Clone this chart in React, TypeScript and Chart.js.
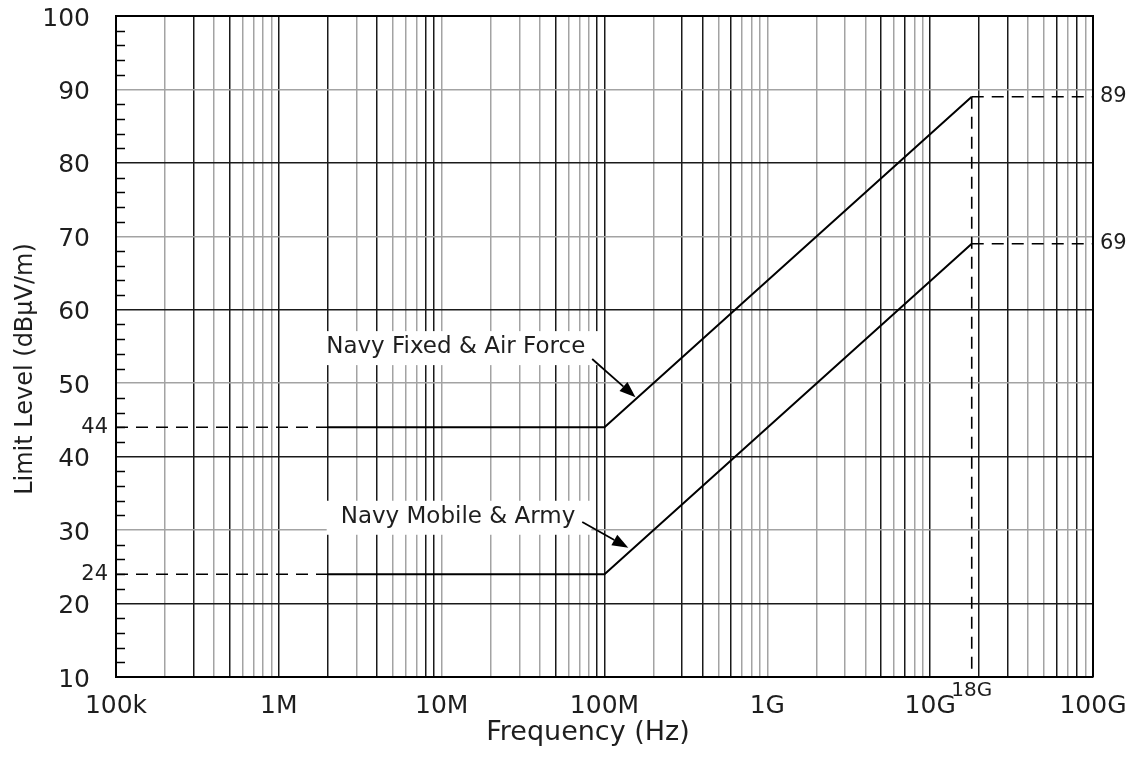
import { useEffect, useRef } from 'react';
import { Chart, registerables } from 'chart.js';

Chart.register(...registerables);

const FONT = '"DejaVu Sans", "Liberation Sans", sans-serif';

// ---- data ----
const breakFreqs = [2e6, 1e8, 1.8e10];
const navyFixedAirForce = [44, 44, 89];
const navyMobileArmy = [24, 24, 69];

const xDecades = [1e5, 1e6, 1e7, 1e8, 1e9, 1e10, 1e11];
const xTickLabels = ['100k', '1M', '10M', '100M', '1G', '10G', '100G'];
const yTickValues = [10, 20, 30, 40, 50, 60, 70, 80, 90, 100];
const yMinorTicks = [12, 14, 16, 18, 22, 24, 26, 28, 32, 34, 36, 38, 42, 44, 46, 48, 52, 54, 56, 58, 62, 64, 66, 68, 72, 74, 76, 78, 82, 84, 86, 88, 92, 94, 96, 98];
const darkVerticals = [3e5, 5e5, 1e6, 2e6, 4e6, 8e6, 9e6, 5e7, 9e7, 1e8, 3e8, 4e8, 6e8, 5e9, 7e9, 1e10, 2e10, 3e10, 6e10, 8e10];
const darkHorizontals = [20, 40, 60, 80, 100];

const X_MIN = 1e5;
const X_MAX = 1e11;
const Y_MIN = 10;
const Y_MAX = 100;

// annotation anchors (data space)
const annotations = [
  { text: 'Navy Fixed & Air Force', x: 1.22e7, y: 54.1, arrowFrom: [8.4e7, 53.3], arrowTo: [1.55e8, 48.1] },
  { text: 'Navy Mobile & Army', x: 1.26e7, y: 31.0, arrowFrom: [7.3e7, 31.1], arrowTo: [1.4e8, 27.6] },
];

// all log grid positions (1..9 x decade)
const xGridValues: number[] = [];
for (let d = 0; d < xDecades.length; d++) {
  const base = xDecades[d];
  if (d === xDecades.length - 1) {
    xGridValues.push(base);
  } else {
    for (let m = 1; m <= 9; m++) xGridValues.push(m * base);
  }
}

const isClose = (a: number, b: number) => Math.abs(a - b) / b < 1e-6;

const GRAY = '#a3a3a3';
const DARK = '#1a1a1a';
const TEXT = '#1e1e1e';

const pts = (xs: number[], ys: number[]) => xs.map((x, i) => ({ x, y: ys[i] }));

const overlayPlugin = {
  id: 'overlay',
  beforeDatasetsDraw(chart: any) {
    const { ctx, chartArea, scales } = chart;
    const xs = scales.x;
    const ys = scales.y;
    ctx.save();
    // minor inner ticks on y axis
    ctx.strokeStyle = '#000';
    ctx.lineWidth = 1.5;
    for (const v of yMinorTicks) {
      const py = Math.round(ys.getPixelForValue(v)) + 0.5;
      ctx.beginPath();
      ctx.moveTo(chartArea.left, py);
      ctx.lineTo(chartArea.left + 9, py);
      ctx.stroke();
    }
    // label boxes
    ctx.font = `23px ${FONT}`;
    ctx.textAlign = 'center';
    ctx.textBaseline = 'alphabetic';
    for (const a of annotations) {
      const cx = xs.getPixelForValue(a.x);
      const by = ys.getPixelForValue(a.y);
      const w = ctx.measureText(a.text).width;
      ctx.fillStyle = '#fff';
      ctx.fillRect(cx - w / 2 - 14, by - 22, w + 30, 34);
      ctx.fillStyle = TEXT;
      ctx.fillText(a.text, cx, by);
    }
    ctx.restore();
  },
  afterDatasetsDraw(chart: any) {
    const { ctx, chartArea, scales } = chart;
    const xs = scales.x;
    const ys = scales.y;
    ctx.save();
    // frame top & right
    ctx.strokeStyle = '#000';
    ctx.lineWidth = 2;
    ctx.beginPath();
    ctx.moveTo(chartArea.left, chartArea.top);
    ctx.lineTo(chartArea.right, chartArea.top);
    ctx.lineTo(chartArea.right, chartArea.bottom);
    ctx.stroke();

    // arrows
    for (const a of annotations) {
      const x1 = xs.getPixelForValue(a.arrowFrom[0]);
      const y1 = ys.getPixelForValue(a.arrowFrom[1]);
      const x2 = xs.getPixelForValue(a.arrowTo[0]);
      const y2 = ys.getPixelForValue(a.arrowTo[1]);
      const ang = Math.atan2(y2 - y1, x2 - x1);
      const len = 16;
      const half = 6;
      const bx = x2 - len * Math.cos(ang);
      const byy = y2 - len * Math.sin(ang);
      ctx.strokeStyle = '#000';
      ctx.lineWidth = 1.8;
      ctx.beginPath();
      ctx.moveTo(x1, y1);
      ctx.lineTo(bx, byy);
      ctx.stroke();
      ctx.fillStyle = '#000';
      ctx.beginPath();
      ctx.moveTo(x2, y2);
      ctx.lineTo(bx + half * Math.sin(ang), byy - half * Math.cos(ang));
      ctx.lineTo(bx - half * Math.sin(ang), byy + half * Math.cos(ang));
      ctx.closePath();
      ctx.fill();
    }
    ctx.restore();
  },
  afterDraw(chart: any) {
    const { ctx, chartArea, scales } = chart;
    const xs = scales.x;
    const ys = scales.y;
    ctx.save();
    ctx.fillStyle = TEXT;
    // side value labels
    ctx.font = `21px ${FONT}`;
    ctx.textBaseline = 'middle';
    ctx.textAlign = 'right';
    ctx.fillText(String(navyFixedAirForce[0]), chartArea.left - 8, ys.getPixelForValue(navyFixedAirForce[0]));
    ctx.fillText(String(navyMobileArmy[0]), chartArea.left - 8, ys.getPixelForValue(navyMobileArmy[0]));
    ctx.textAlign = 'left';
    ctx.fillText(String(navyFixedAirForce[2]), chartArea.right + 7, ys.getPixelForValue(navyFixedAirForce[2]));
    ctx.fillText(String(navyMobileArmy[2]), chartArea.right + 7, ys.getPixelForValue(navyMobileArmy[2]));
    // 18G label
    ctx.font = `20px ${FONT}`;
    ctx.textAlign = 'center';
    ctx.fillText('18G', xs.getPixelForValue(breakFreqs[2]), chartArea.bottom + 14);
    // axis titles
    ctx.font = `27px ${FONT}`;
    ctx.fillText('Frequency (Hz)', 588, 733);
    ctx.font = `24px ${FONT}`;
    ctx.translate(26, 369);
    ctx.rotate(-Math.PI / 2);
    ctx.fillText('Limit Level (dBμV/m)', 0, 0);
    ctx.restore();
  },
};

export default function App() {
  const canvasRef = useRef<HTMLCanvasElement | null>(null);

  useEffect(() => {
    if (!canvasRef.current) return;
    const solid = { borderColor: '#000', borderWidth: 2, pointRadius: 0, showLine: true, fill: false };
    const dashed = { borderColor: '#000', borderWidth: 1.6, borderDash: [12, 8], pointRadius: 0, showLine: true, fill: false };
    const chart = new Chart(canvasRef.current, {
      type: 'scatter',
      data: {
        datasets: [
          { label: 'Navy Fixed & Air Force', data: pts(breakFreqs, navyFixedAirForce), ...solid },
          { label: 'Navy Mobile & Army', data: pts(breakFreqs, navyMobileArmy), ...solid },
          { label: 'g44', data: pts([X_MIN, breakFreqs[0]], [navyFixedAirForce[0], navyFixedAirForce[0]]), ...dashed },
          { label: 'g24', data: pts([X_MIN, breakFreqs[0]], [navyMobileArmy[0], navyMobileArmy[0]]), ...dashed },
          { label: 'g18', data: pts([breakFreqs[2], breakFreqs[2]], [navyFixedAirForce[2], Y_MIN]), ...dashed },
          { label: 'g89', data: pts([breakFreqs[2], X_MAX], [navyFixedAirForce[2], navyFixedAirForce[2]]), ...dashed },
          { label: 'g69', data: pts([breakFreqs[2], X_MAX], [navyMobileArmy[2], navyMobileArmy[2]]), ...dashed },
        ] as any,
      },
      options: {
        animation: false,
        responsive: true,
        maintainAspectRatio: false,
        layout: { padding: { top: 16, right: 33, left: 0, bottom: 0 } },
        plugins: { legend: { display: false }, tooltip: { enabled: false } },
        scales: {
          x: {
            type: 'logarithmic',
            min: X_MIN,
            max: X_MAX,
            afterBuildTicks: (scale: any) => {
              scale.ticks = xGridValues.map((v) => ({ value: v }));
            },
            afterFit: (scale: any) => {
              scale.height = 84;
              scale.paddingLeft = 0;
              scale.paddingRight = 0;
              scale.paddingTop = 0;
              scale.paddingBottom = 0;
            },
            ticks: {
              autoSkip: false,
              maxRotation: 0,
              padding: 14,
              color: TEXT,
              font: { family: FONT, size: 25 },
              callback: (value: any) => {
                const i = xDecades.findIndex((d) => isClose(Number(value), d));
                return i >= 0 ? xTickLabels[i] : '';
              },
            },
            grid: {
              drawTicks: false,
              lineWidth: 1.5,
              color: (c: any) => {
                const v = c.tick ? c.tick.value : 0;
                return darkVerticals.some((d) => isClose(v, d)) ? DARK : GRAY;
              },
            },
            border: { display: true, color: '#000', width: 2 },
          },
          y: {
            type: 'linear',
            min: Y_MIN,
            max: Y_MAX,
            afterBuildTicks: (scale: any) => {
              scale.ticks = yTickValues.map((v) => ({ value: v }));
            },
            afterFit: (scale: any) => {
              scale.width = 116;
              scale.paddingLeft = 0;
              scale.paddingRight = 0;
              scale.paddingTop = 0;
              scale.paddingBottom = 0;
            },
            ticks: {
              padding: 26,
              labelOffset: 3,
              color: TEXT,
              font: { family: FONT, size: 25 },
              callback: (value: any) => String(value),
            },
            grid: {
              drawTicks: false,
              lineWidth: 1.5,
              color: (c: any) => {
                const v = c.tick ? c.tick.value : 0;
                return darkHorizontals.includes(v) ? DARK : GRAY;
              },
            },
            border: { display: true, color: '#000', width: 2 },
          },
        },
      } as any,
      plugins: [overlayPlugin],
    });
    return () => chart.destroy();
  }, []);

  return (
    <div style={{ position: 'relative', width: 1126, height: 761, marginTop: -8, marginLeft: -8 }}>
      <canvas ref={canvasRef} />
    </div>
  );
}
